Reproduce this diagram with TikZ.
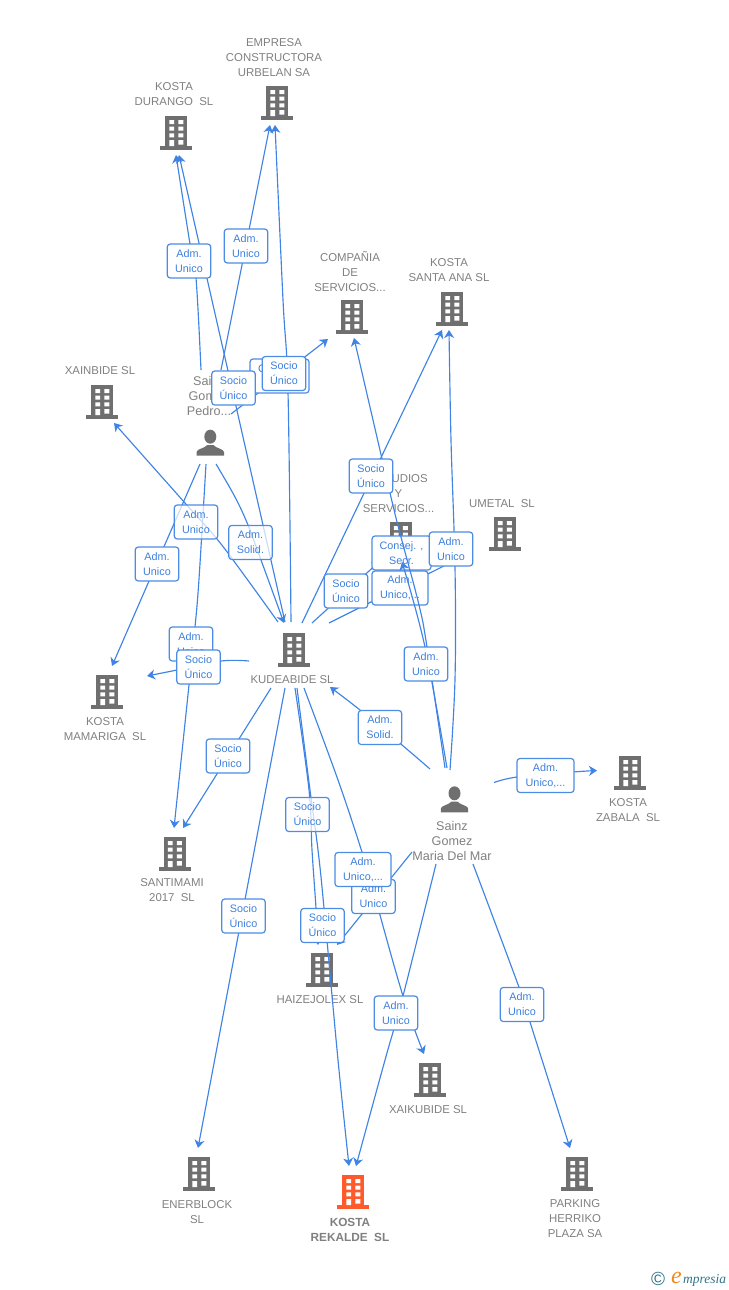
\documentclass[tikz,border=0pt]{standalone}
\usepackage{fontspec}
\setmainfont{Liberation Sans}
\newfontfamily\logofont{Liberation Serif}
\usetikzlibrary{arrows.meta}
\definecolor{lnk}{HTML}{3F84E5}
\definecolor{bord}{HTML}{4C8CE4}
\definecolor{tagtxt}{HTML}{3D80DC}
\definecolor{lab}{HTML}{808080}
\definecolor{ico}{HTML}{6F6F6F}
\definecolor{hot}{HTML}{FF5A2B}
\definecolor{logot}{HTML}{2F7488}
\definecolor{logoo}{HTML}{F08A1E}
\tikzset{
  pics/bldg/.style={code={
    \fill[#1] (-11,0) rectangle (11,31);
    \fill[#1] (-16,30) rectangle (16,33.5);
    \fill[white] (-6.7,4) rectangle (-2,8) (2.3,4) rectangle (7.3,8)
      (-6.7,10.7) rectangle (-2,14.7) (2.3,10.7) rectangle (7.3,14.7)
      (-6.7,17.3) rectangle (-2,21.3) (2.3,17.3) rectangle (7.3,21.3)
      (-6.7,24) rectangle (-2,30) (2.3,24) rectangle (7.3,28.7);
  }},
  pics/person/.style={code={
    \fill[ico] (0,-6.3) ellipse (6 and 7);
    \fill[ico] (-13.7,12.7) -- (-13.7,9) .. controls (-13.7,6) and (-6,5.5) .. (-3,2)
      -- (3,2) .. controls (6,5.5) and (13.7,6) .. (13.7,9) -- (13.7,12.7) -- cycle;
  }},
  lbl/.style={text=lab,align=center,inner sep=0pt,font=\fontsize{11.4}{15}\selectfont},
  boldlbl/.style={lbl,font=\fontsize{11.8}{15}\selectfont\bfseries},
  perslbl/.style={lbl,font=\fontsize{12.6}{15}\selectfont},
  link/.style={draw=lnk,line width=1.15pt},
  arrowed/.style={link,-{Stealth[length=8pt,width=10pt,inset=2.5pt]}},
  tag/.style={draw=bord,line width=1.2pt,rounded corners=3pt,fill=white,text=tagtxt,
    align=center,inner sep=0pt,minimum width=43.5pt,minimum height=34pt,
    font=\fontsize{10.8}{15}\selectfont},
  seetag/.style={tag,fill opacity=.72,text opacity=1,draw opacity=1},
}
\begin{document}
\begin{tikzpicture}[x=1pt,y=-1pt]
\useasboundingbox (0,0) rectangle (728,1290);
% icons
\pic at (277,86) {bldg=ico};
\pic at (176,116) {bldg=ico};
\pic at (352,300) {bldg=ico};
\pic at (452,292) {bldg=ico};
\pic at (102,385) {bldg=ico};
\pic at (400.5,522) {bldg=ico};
\pic at (504.5,517) {bldg=ico};
\pic at (294,633) {bldg=ico};
\pic at (107,675) {bldg=ico};
\pic at (630,756) {bldg=ico};
\pic at (174.5,837) {bldg=ico};
\pic at (322,953) {bldg=ico};
\pic at (430,1063) {bldg=ico};
\pic at (199,1157) {bldg=ico};
\pic at (353,1175) {bldg=hot};
\pic at (577,1157) {bldg=ico};
\pic at (210.3,443) {person};
\pic at (454.5,799.6) {person};
% labels
\node[lbl] (urbelan) at (274,58) {EMPRESA\\CONSTRUCTORA\\URBELAN SA};
\node[lbl] (durango) at (174,94.5) {KOSTA\\DURANGO\ \ SL};
\node[lbl] (compania) at (350,272) {COMPAÑIA\\DE\\SERVICIOS...};
\node[lbl] (santaana) at (449,270.5) {KOSTA\\SANTA ANA SL};
\node[lbl] (xainbide) at (100,370.5) {XAINBIDE SL};
\node[perslbl] (pedro) at (209,396) {Sainz\\Gomez\\Pedro...};
\node[lbl] (estudios) at (398.5,494) {ESTUDIOS\\Y\\SERVICIOS...};
\node[lbl] (umetal) at (502,503.5) {UMETAL\ \ SL};
\node[lbl] (kudeabide) at (292,679.5) {KUDEABIDE SL};
\node[lbl] (mamariga) at (105,729.5) {KOSTA\\MAMARIGA\ \ SL};
\node[perslbl] (maria) at (452,841) {Sainz\\Gomez\\Maria Del Mar};
\node[lbl] (zabala) at (628,810.5) {KOSTA\\ZABALA\ \ SL};
\node[lbl] (santimami) at (172,890.5) {SANTIMAMI\\2017\ \ SL};
\node[lbl] (haizejolex) at (320,999.5) {HAIZEJOLEX SL};
\node[lbl] (xaikubide) at (428,1109.5) {XAIKUBIDE SL};
\node[lbl] (enerblock) at (197,1212.5) {ENERBLOCK\\SL};
\node[boldlbl] (rekalde) at (350,1229.5) {KOSTA\\REKALDE\ \ SL};
\node[lbl] (parking) at (575,1219) {PARKING\\HERRIKO\\PLAZA SA};
% connector ends
\coordinate (pedroA) at (201,370);
\coordinate (pedroB) at (221,370);
\coordinate (pedroC) at (231,414);
\coordinate (pedroD) at (200,464);
\coordinate (pedroE) at (206,464);
\coordinate (pedroF) at (216,464);
\coordinate (kudeA) at (285,622);
\coordinate (kudeB) at (291,622);
\coordinate (kudeC) at (278,622);
\coordinate (kudeD) at (249,661);
\coordinate (kudeE) at (271,688);
\coordinate (kudeF) at (285,688);
\coordinate (kudeG) at (295,688);
\coordinate (kudeH) at (297,688);
\coordinate (kudeI) at (304,688);
\coordinate (kudeJ) at (302,623);
\coordinate (kudeK) at (312,623);
\coordinate (kudeL) at (329,623);
\coordinate (kudeIn) at (284,623);
\coordinate (kudeSolid) at (330,687);
\coordinate (mariaA) at (412,852);
\coordinate (mariaB) at (436,864);
\coordinate (mariaC) at (473,864);
\coordinate (mariaD) at (494,782.5);
\coordinate (mariaE) at (430,769);
\coordinate (mariaF) at (450,770);
\coordinate (mariaG) at (445,768);
\coordinate (mariaH) at (447,768);
\coordinate (toDurangoA) at (176,155);
\coordinate (toDurangoB) at (179,155);
\coordinate (toUrbelanA) at (270,125);
\coordinate (toUrbelanB) at (275,125);
\coordinate (toCompaniaA) at (328,339);
\coordinate (toCompaniaB) at (354,338);
\coordinate (toXainbide) at (114,423);
\coordinate (toMamarigaA) at (112,666);
\coordinate (toMamarigaB) at (147,676);
\coordinate (toSantimamiA) at (174,828);
\coordinate (toSantimamiB) at (183,828);
\coordinate (toEnerblock) at (198,1148);
\coordinate (toHaizeA) at (318,945);
\coordinate (toHaizeB) at (337,945);
\coordinate (toRekaldeA) at (349,1166);
\coordinate (toRekaldeB) at (356,1166);
\coordinate (toXaikubide) at (424,1054);
\coordinate (toParking) at (570,1148);
\coordinate (toZabala) at (597,770.5);
\coordinate (toSantaAnaA) at (449,330);
\coordinate (toSantaAnaB) at (442,330);
\coordinate (toEstudiosA) at (380,561);
\coordinate (toEstudiosB) at (402,562);
\coordinate (toUmetal) at (450,563);
% connectors beneath the tags
\draw[arrowed] plot[smooth,tension=.6] coordinates {(pedroA) (196,278) (190,244) (toDurangoA)};
\draw[arrowed] (kudeA) -- (toDurangoB);
\draw[arrowed] (pedroB) -- (toUrbelanA);
\draw[arrowed] plot[smooth,tension=.6] coordinates {(kudeB) (288,392) (283,300) (toUrbelanB)};
\draw[arrowed] (pedroC) -- (toCompaniaA);
\draw[arrowed] plot[smooth,tension=.6] coordinates {(kudeC) (247,579) (217,539) (185,503) (toXainbide)};
\draw[arrowed] (pedroD) -- (toMamarigaA);
\draw[arrowed] plot[smooth,tension=.6] coordinates {(pedroE) (199,579) (195,627) (189,685) (toSantimamiA)};
\draw[arrowed] plot[smooth,tension=.6] coordinates {(pedroF) (235,497) (248,525) (261,560) (kudeIn)};
\draw[arrowed] plot[smooth,tension=.6] coordinates {(kudeD) (221,661) (177,670) (toMamarigaB)};
\draw[arrowed] (kudeE) -- (toSantimamiB);
\draw[arrowed] (kudeF) -- (toEnerblock);
\draw[arrowed] plot[smooth,tension=.6] coordinates {(kudeG) (309,790) (312,850) (316,908) (toHaizeA)};
\draw[arrowed] plot[smooth,tension=.6] coordinates {(kudeH) (310,790) (318,850) (324,908) (338,1060) (toRekaldeA)};
\draw[arrowed] plot[smooth,tension=.6] coordinates {(kudeI) (338,780) (362,852) (373,890) (403,996) (toXaikubide)};
\draw[arrowed] (mariaA) -- (toHaizeB);
\draw[arrowed] plot[smooth,tension=.6] coordinates {(mariaB) (403,996) (385,1060) (toRekaldeB)};
\draw[arrowed] plot[smooth,tension=.6] coordinates {(mariaC) (520,990) (530,1022) (toParking)};
\draw[arrowed] plot[smooth,tension=.6] coordinates {(mariaD) (517,777) (573,772) (toZabala)};
\draw[arrowed] plot[smooth,tension=.6] coordinates {(mariaE) (402,745) (360,710) (kudeSolid)};
\draw[arrowed] plot[smooth,tension=.6] coordinates {(mariaF) (455,679) (455,567) (451,440) (toSantaAnaA)};
\draw[arrowed] (kudeJ) -- (toSantaAnaB);
\draw[arrowed] (kudeK) -- (toEstudiosA);
\draw[link] (kudeL) -- (371,602) -- (toUmetal);
% tags crossed by connectors
\node[tag,minimum width=59pt] (tagConsej) at (401.5,553) {Consej. ,\\Secr.};
\node[tag,minimum width=56pt] (tagUnicoC) at (400,588) {Adm.\\Unico,...};
\draw[arrowed] plot[smooth,tension=.6] coordinates {(mariaG) (427,647) (419,605) (401,537) (390,493) (toCompaniaB)};
\draw[arrowed] plot[smooth,tension=.6] coordinates {(mariaH) (425,647) (toEstudiosB)};
% remaining tags
\node[tag] (tagDurango) at (189,261) {Adm.\\Unico};
\node[tag] (tagUrbelan) at (246,246) {Adm.\\Unico};
\node[tag,minimum width=59pt,text width=43pt,inner xsep=8pt,align=left] (tagHidden) at (279.5,376) {C\\~};
\node[tag] (tagPedro) at (233.5,388) {Socio\\Único};
\node[tag] (tagCompania) at (284,373.5) {Socio\\Único};
\node[seetag] (tagXain) at (196,522) {Adm.\\Unico};
\node[seetag] (tagSolid) at (250.5,542.5) {Adm.\\Solid.};
\node[tag] (tagMam) at (157,564) {Adm.\\Unico};
\node[tag] (tagSantaAna) at (371,476) {Socio\\Único};
\node[tag] (tagUmetal) at (451,549) {Adm.\\Unico};
\node[tag] (tagKudeEst) at (346,591) {Socio\\Único};
\node[tag] (tagMaria) at (426,664) {Adm.\\Unico};
\node[tag] (tagSanti) at (191,644) {Adm.\\Unico};
\node[tag] (tagMamB) at (198.5,667) {Socio\\Único};
\node[tag] (tagSantiB) at (228,756) {Socio\\Único};
\node[tag] (tagKudeSolid) at (380,727.5) {Adm.\\Solid.};
\node[tag] (tagEner) at (243.5,916) {Socio\\Único};
\node[seetag] (tagHaizeA) at (307.5,814.5) {Socio\\Único};
\node[tag] (tagHaizeC) at (373.5,896.5) {Adm.\\Unico};
\node[tag,minimum width=56pt] (tagXaiku) at (363,869.5) {Adm.\\Unico,...};
\node[tag] (tagHaizeB) at (322.5,925.5) {Socio\\Único};
\node[tag] (tagRekalde) at (396,1013) {Adm.\\Unico};
\node[tag] (tagParking) at (522,1004.5) {Adm.\\Unico};
\node[tag,minimum width=57pt] (tagZabala) at (545.5,775.5) {Adm.\\Unico,...};
% logo
\node[inner sep=0pt,text=logot,font=\fontsize{19}{19}\selectfont] (copyr) at (658,1278.5) {©};
\node[inner sep=0pt,anchor=base west,font=\logofont\itshape\fontsize{24}{24}\selectfont,text=logoo] (logoE) at (671,1283) {e};
\node[inner sep=0pt,anchor=base west,font=\logofont\itshape\fontsize{13.5}{14}\selectfont,text=logot] (logoW) at (683,1283) {mpresia};
\end{tikzpicture}
\end{document}
